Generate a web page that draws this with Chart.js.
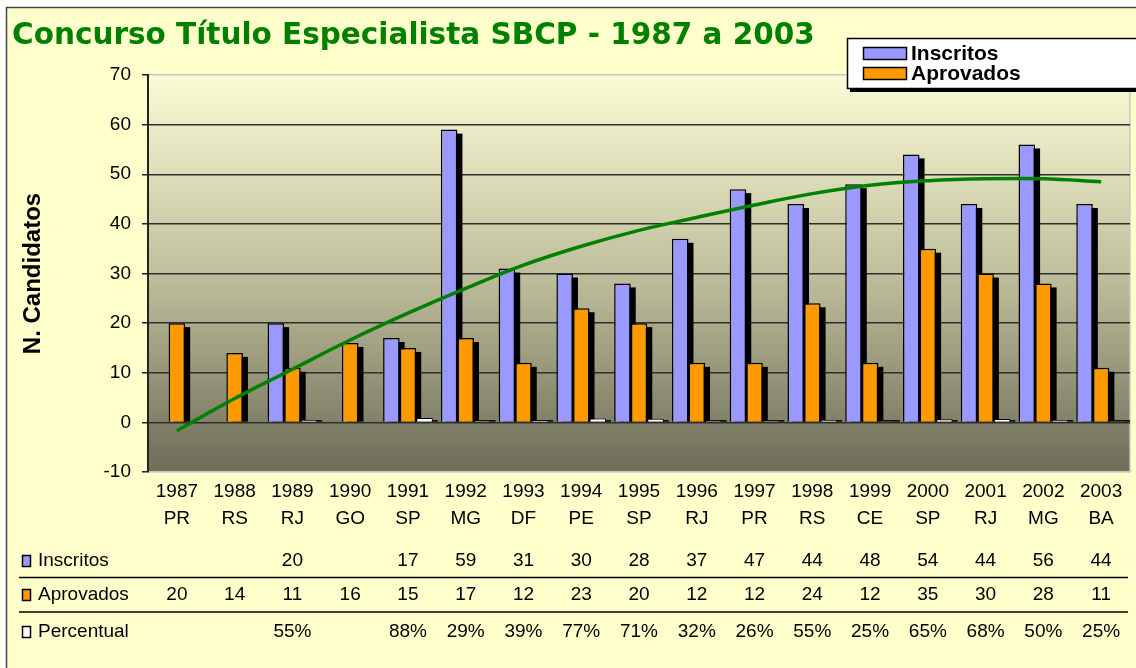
<!DOCTYPE html>
<html>
<head>
<meta charset="utf-8">
<script src="https://cdn.jsdelivr.net/npm/chart.js@4.4.0/dist/chart.umd.min.js"></script>
<style>
  html, body { margin: 0; padding: 0; background: #fff; }
  #wrap { width: 1136px; height: 668px; }
</style>
</head>
<body>
<div id="wrap"><canvas id="grafico" width="1136" height="668"></canvas></div>
<script>
// dados
const anos = ['1987','1988','1989','1990','1991','1992','1993','1994','1995','1996','1997','1998','1999','2000','2001','2002','2003'];
const estados = ['PR','RS','RJ','GO','SP','MG','DF','PE','SP','RJ','PR','RS','CE','SP','RJ','MG','BA'];
const inscritos = [null, null, 20, null, 17, 59, 31, 30, 28, 37, 47, 44, 48, 54, 44, 56, 44];
const aprovados = [20, 14, 11, 16, 15, 17, 12, 23, 20, 12, 12, 24, 12, 35, 30, 28, 11];
const percentual = [null, null, 55, null, 88, 29, 39, 77, 71, 32, 26, 55, 25, 65, 68, 50, 25];
// linha de tendencia (verde)
const tendencia = [-1.7, 4.8, 10.7, 16.6, 22, 27, 31.7, 35.5, 38.7, 41.3, 43.8, 46.1, 47.8, 48.7, 49.1, 49.1, 48.5];
const yMin = -10, yMax = 70, yPasso = 10;

const ARIAL = '"Liberation Sans", Arial, sans-serif';
const COR_INSC = '#9999ff';
const COR_APROV = '#ff9900';
const COR_PERC = '#ffffff';

Chart.defaults.color = '#000';
Chart.defaults.font.family = ARIAL;

// fundo amarelo + degrade da area de plotagem
const fundo = {
  id: 'fundo',
  beforeDraw(chart) {
    const { ctx, chartArea: a, width, height } = chart;
    ctx.save();
    ctx.fillStyle = '#ffffff';
    ctx.fillRect(0, 0, width, height);
    ctx.fillStyle = '#ffffcc';
    ctx.fillRect(6, 7, width, height);
    ctx.strokeStyle = '#444';
    ctx.lineWidth = 1.5;
    ctx.strokeRect(6.5, 7.5, width + 20, height + 20);
    const g = ctx.createLinearGradient(0, a.top, 0, a.bottom);
    g.addColorStop(0, '#fbfbd6');
    g.addColorStop(0.5, '#c0bf9c');
    g.addColorStop(1, '#6d6d58');
    ctx.fillStyle = g;
    ctx.fillRect(a.left, a.top, a.right - a.left, a.bottom - a.top);
    ctx.strokeStyle = '#c8c8c8';
    ctx.beginPath();
    ctx.moveTo(a.right, a.top);
    ctx.lineTo(a.right, a.bottom);
    ctx.stroke();
    ctx.restore();
  }
};

// sombra preta das barras
const sombra = {
  id: 'sombra',
  beforeDatasetsDraw(chart) {
    const { ctx, chartArea: a } = chart;
    ctx.save();
    ctx.beginPath();
    ctx.rect(a.left, a.top, a.right - a.left, a.bottom - a.top);
    ctx.clip();
    ctx.fillStyle = '#000';
    chart.data.datasets.forEach((ds, i) => {
      if (ds.type === 'line') return;
      chart.getDatasetMeta(i).data.forEach((el, j) => {
        if (ds.data[j] == null) return;
        const { x, y, base, width } = el.getProps(['x', 'y', 'base', 'width'], true);
        const topo = Math.min(y + 4, base - 1.5);
        ctx.fillRect(x - width / 2 + 5, topo, width, base - topo);
      });
    });
    ctx.restore();
  }
};

// legenda no canto superior direito
const legenda = {
  id: 'legenda',
  afterDraw(chart) {
    const { ctx } = chart;
    ctx.save();
    ctx.fillStyle = '#000';
    ctx.fillRect(850, 41, 290, 51);
    ctx.fillStyle = '#fff';
    ctx.fillRect(847, 38, 290, 50);
    ctx.strokeStyle = '#000';
    ctx.lineWidth = 1.5;
    ctx.strokeRect(847.5, 38.5, 290, 50);
    const itens = [['Inscritos', COR_INSC, 54], ['Aprovados', COR_APROV, 74]];
    ctx.font = 'bold 21px ' + ARIAL;
    ctx.textBaseline = 'middle';
    itens.forEach(([nome, cor, y]) => {
      ctx.fillStyle = cor;
      ctx.fillRect(863, y - 7, 44, 13);
      ctx.strokeRect(863.5, y - 6.5, 43, 12);
      ctx.fillStyle = '#000';
      ctx.fillText(nome, 911, y);
    });
    ctx.restore();
  }
};

// tabela de dados abaixo do eixo
const tabela = {
  id: 'tabela',
  afterDraw(chart) {
    const { ctx } = chart;
    const xs = chart.scales.x;
    const linhas = [
      ['Inscritos', COR_INSC, 561, inscritos.map(v => v == null ? '' : String(v))],
      ['Aprovados', COR_APROV, 595, aprovados.map(v => v == null ? '' : String(v))],
      ['Percentual', COR_PERC, 632, percentual.map(v => v == null ? '' : v + '%')]
    ];
    ctx.save();
    ctx.font = '19px ' + ARIAL;
    ctx.textBaseline = 'middle';
    ctx.strokeStyle = '#000';
    ctx.lineWidth = 1.5;
    linhas.forEach(([nome, cor, y, vals]) => {
      ctx.fillStyle = cor;
      ctx.fillRect(22, y - 6, 9, 12);
      ctx.strokeRect(22.5, y - 5.5, 8, 11);
      ctx.fillStyle = '#000';
      ctx.textAlign = 'left';
      ctx.fillText(nome, 38, y);
      ctx.textAlign = 'center';
      vals.forEach((t, i) => ctx.fillText(t, xs.getPixelForValue(i), y));
    });
    [577.5, 612].forEach(y => {
      ctx.beginPath();
      ctx.moveTo(19, y);
      ctx.lineTo(1128, y);
      ctx.stroke();
    });
    ctx.restore();
  }
};

new Chart(document.getElementById('grafico'), {
  type: 'bar',
  data: {
    labels: anos.map((a, i) => [a, estados[i]]),
    datasets: [
      { label: 'Inscritos', data: inscritos, backgroundColor: COR_INSC, borderColor: '#000', borderWidth: 1.5 },
      { label: 'Aprovados', data: aprovados, backgroundColor: COR_APROV, borderColor: '#000', borderWidth: 1.5 },
      { label: 'Percentual', data: percentual.map(v => v == null ? null : v / 100), backgroundColor: COR_PERC, borderColor: '#000', borderWidth: 1 },
      { type: 'line', label: 'Tendência', data: tendencia, borderColor: '#008000', borderWidth: 3.5,
        pointRadius: 0, tension: 0.4, fill: false, order: -1 }
    ]
  },
  options: {
    responsive: false,
    animation: false,
    events: [],
    layout: { padding: { left: 12, right: 6, top: 0, bottom: 0 } },
    datasets: { bar: { categoryPercentage: 0.86, barPercentage: 1 } },
    plugins: {
      legend: { display: false },
      tooltip: { enabled: false },
      title: {
        display: true,
        text: 'Concurso Título Especialista SBCP - 1987 a 2003',
        align: 'start',
        color: '#008000',
        font: { family: '"DejaVu Sans", Verdana, sans-serif', size: 29.5, weight: 'bold', lineHeight: 1.2 },
        padding: { top: 19, bottom: 20.6 }
      }
    },
    scales: {
      x: {
        grid: { display: false, drawTicks: false },
        border: { display: true, color: '#c8c8c8', width: 1.5 },
        ticks: { font: { size: 19, lineHeight: '27px' }, padding: 6, maxRotation: 0, autoSkip: false },
        afterFit(s) { s.height = 196; }
      },
      y: {
        min: yMin,
        max: yMax,
        ticks: { stepSize: yPasso, font: { size: 19 }, padding: 11 },
        grid: {
          color: c => (c.tick.value === yMax || c.tick.value === yMin) ? '#c8c8c8' : '#2e2e2e',
          lineWidth: 1.5,
          tickLength: 6,
          tickColor: '#222'
        },
        border: { color: '#222', width: 2 },
        title: {
          display: true,
          text: 'N. Candidatos',
          font: { size: 24, weight: 'bold', lineHeight: 1.2 },
          padding: { top: 7, bottom: 0 }
        },
        afterFit(s) { s.width = 136; }
      }
    }
  },
  plugins: [fundo, sombra, legenda, tabela]
});
</script>
</body>
</html>
